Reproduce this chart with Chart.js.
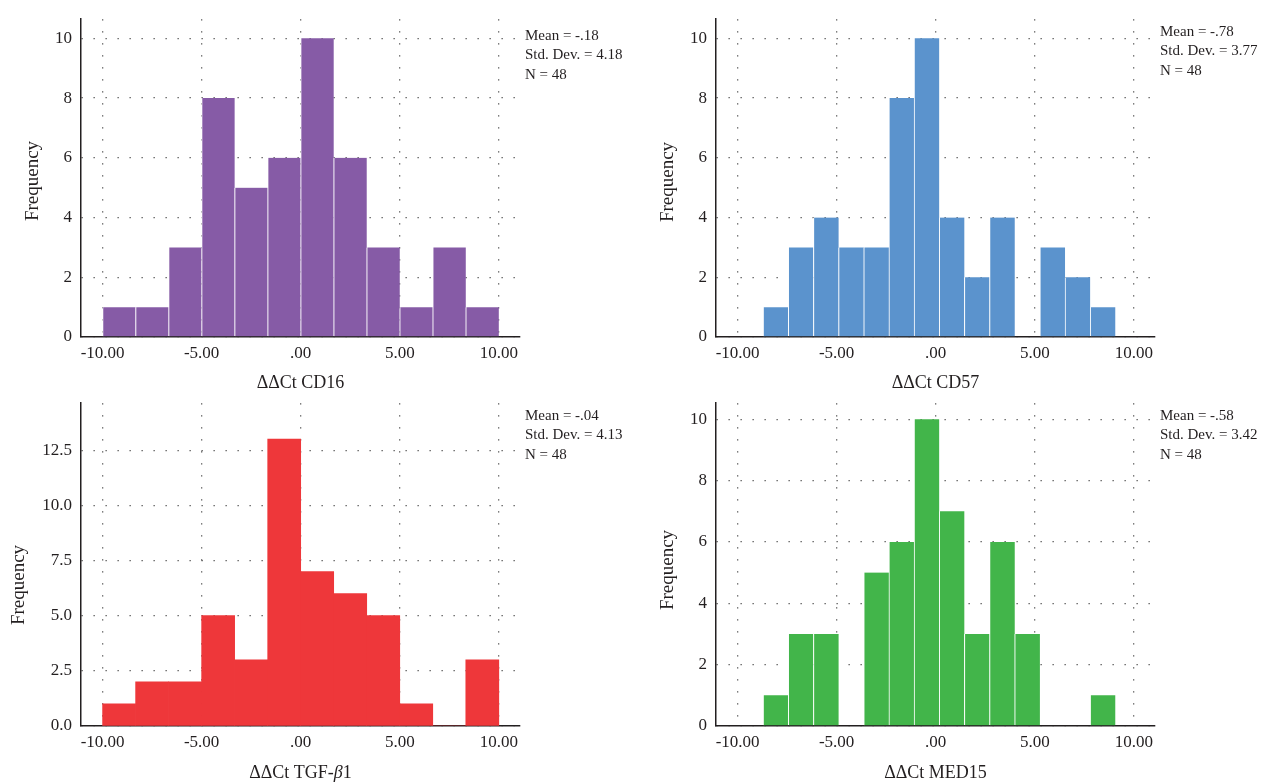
<!DOCTYPE html>
<html>
<head>
<meta charset="utf-8">
<script src="https://cdn.jsdelivr.net/npm/chart.js@4/dist/chart.umd.min.js"></script>
<style>
  body { margin: 0; background: #fff; }
  #wrap { position: relative; width: 1268px; height: 784px; overflow: hidden; }
  canvas { position: absolute; }
</style>
</head>
<body>
<div id="wrap">
  <canvas id="c1" width="634" height="392" style="left:0;top:0"></canvas>
  <canvas id="c2" width="633" height="392" style="left:635px;top:0"></canvas>
  <canvas id="c3" width="634" height="400" style="left:0;top:384px"></canvas>
  <canvas id="c4" width="633" height="400" style="left:635px;top:384px"></canvas>
</div>
<script>
// bin centres (12 bins over -10..10, 14 bins over -8.71..9.07)
const binsA = [-9.167, -7.5, -5.833, -4.167, -2.5, -0.833, 0.833, 2.5, 4.167, 5.833, 7.5, 9.167];
const binsB = [-8.075, -6.805, -5.535, -4.265, -2.995, -1.725, -0.455, 0.815, 2.085, 3.355, 4.625, 5.895, 7.165, 8.435];

// frequencies
const cd16 = [1, 1, 3, 8, 5, 6, 10, 6, 3, 1, 3, 1];
const cd57 = [1, 3, 4, 3, 3, 8, 10, 4, 2, 4, 0, 3, 2, 1];
const tgf = [1, 2, 2, 5, 3, 13, 7, 6, 5, 1, 0, 3];
const med15 = [1, 3, 3, 0, 5, 6, 10, 7, 3, 6, 3, 0, 0, 1];

// summary text
const means = ['-.18', '-.78', '-.04', '-.58'];
const stdDevs = ['4.18', '3.77', '4.13', '3.42'];
const counts = [48, 48, 48, 48];

const xTicks = [-10, -5, 0, 5, 10];
const yTicksInt = [0, 2, 4, 6, 8, 10];
const yTicksTgf = [0, 2.5, 5, 7.5, 10, 12.5];

const serif = "'Liberation Serif', 'DejaVu Serif', serif";
const ink = '#231f20';
Chart.defaults.font.family = serif;
Chart.defaults.color = ink;

// draws the stats box, the rotated y title and the x title (with italic parts)
const extras = {
  id: 'extras',
  afterDraw(chart, args, o) {
    const ctx = chart.ctx;
    const a = chart.chartArea;
    ctx.save();
    ctx.fillStyle = ink;
    ctx.textBaseline = 'middle';
    ctx.textAlign = 'left';
    ctx.font = '15px ' + serif;
    o.lines.forEach((t, i) => ctx.fillText(t, a.right + 5, o.statsY + i * 19.5));

    // x title
    let w = 0;
    o.xTitle.forEach(p => { ctx.font = (p[1] ? 'italic ' : '') + '18px ' + serif; w += ctx.measureText(p[0]).width; });
    let x = (a.left + a.right) / 2 - w / 2;
    o.xTitle.forEach(p => {
      ctx.font = (p[1] ? 'italic ' : '') + '18px ' + serif;
      ctx.fillText(p[0], x, o.xTitleY);
      x += ctx.measureText(p[0]).width;
    });

    // y title
    ctx.translate(o.yTitleX, o.yTitleY);
    ctx.rotate(-Math.PI / 2);
    ctx.textAlign = 'center';
    ctx.font = '19px ' + serif;
    ctx.fillText('Frequency', 0, 0);
    ctx.restore();
  }
};

function makeHist(id, bins, values, color, sep, p) {
  const grid = { color: '#555555', lineWidth: 1.3, drawTicks: false, offset: false };
  new Chart(document.getElementById(id), {
    type: 'bar',
    data: {
      datasets: [{
        data: bins.map((x, i) => ({ x: x, y: values[i] })),
        backgroundColor: color,
        borderColor: '#ffffff',
        borderWidth: sep ? { left: 1, right: 0, top: 0, bottom: 0 } : 0,
        borderSkipped: false,
        categoryPercentage: 1,
        barPercentage: 1
      }]
    },
    options: {
      responsive: false,
      animation: false,
      events: [],
      layout: { padding: { left: p.padLeft, right: p.padRight, top: p.padTop, bottom: 0 } },
      plugins: {
        legend: { display: false },
        tooltip: { enabled: false },
        extras: p.extras
      },
      scales: {
        x: {
          type: 'linear',
          offset: false,
          min: -11.09,
          max: 11.07,
          afterBuildTicks: s => { s.ticks = xTicks.map(v => ({ value: v })); },
          afterFit: s => { s.height = p.xHeight; },
          ticks: {
            padding: 6,
            font: { size: 17 },
            maxRotation: 0,
            callback: v => v === 0 ? '.00' : v.toFixed(2)
          },
          grid: grid,
          border: { display: true, color: ink, width: 1.5, dash: [1.3, 10.7] },
          title: { display: false }
        },
        y: {
          min: 0,
          max: p.yMax,
          afterBuildTicks: s => { s.ticks = p.yTicks.map(v => ({ value: v })); },
          afterFit: s => { s.width = p.yWidth; },
          ticks: {
            padding: 9,
            font: { size: 17 },
            callback: v => p.decimals ? v.toFixed(1) : String(v)
          },
          grid: grid,
          border: { display: true, color: ink, width: 1.5, dash: [1.3, 10.7] },
          title: { display: false }
        }
      }
    },
    plugins: [extras]
  });
}

function statLines(i) {
  return ['Mean = ' + means[i], 'Std. Dev. = ' + stdDevs[i], 'N = ' + counts[i]];
}

makeHist('c1', binsA, cd16, '#865ba6', true, {
  padLeft: 20, padRight: 114, padTop: 5, yWidth: 61, xHeight: 55, yMax: 10.64,
  yTicks: yTicksInt, decimals: false,
  extras: { lines: statLines(0), statsY: 36, xTitle: [['\u0394\u0394Ct CD16', false]], xTitleY: 383, yTitleX: 33, yTitleY: 181 }
});
makeHist('c2', binsB, cd57, '#5b93cd', true, {
  padLeft: 20, padRight: 113, padTop: 5, yWidth: 61, xHeight: 55, yMax: 10.64,
  yTicks: yTicksInt, decimals: false,
  extras: { lines: statLines(1), statsY: 32, xTitle: [['\u0394\u0394Ct CD57', false]], xTitleY: 383, yTitleX: 33, yTitleY: 182 }
});
makeHist('c3', binsA, tgf, '#ee373a', false, {
  padLeft: 6, padRight: 114, padTop: 6, yWidth: 75, xHeight: 58, yMax: 14.63,
  yTicks: yTicksTgf, decimals: true,
  extras: { lines: statLines(2), statsY: 32, xTitle: [['\u0394\u0394Ct TGF-', false], ['\u03b2', true], ['1', false]], xTitleY: 389, yTitleX: 19, yTitleY: 201 }
});
makeHist('c4', binsB, med15, '#42b54a', true, {
  padLeft: 20, padRight: 113, padTop: 6, yWidth: 61, xHeight: 58, yMax: 10.52,
  yTicks: yTicksInt, decimals: false,
  extras: { lines: statLines(3), statsY: 32, xTitle: [['\u0394\u0394Ct MED15', false]], xTitleY: 389, yTitleX: 33, yTitleY: 186 }
});
</script>
</body>
</html>
